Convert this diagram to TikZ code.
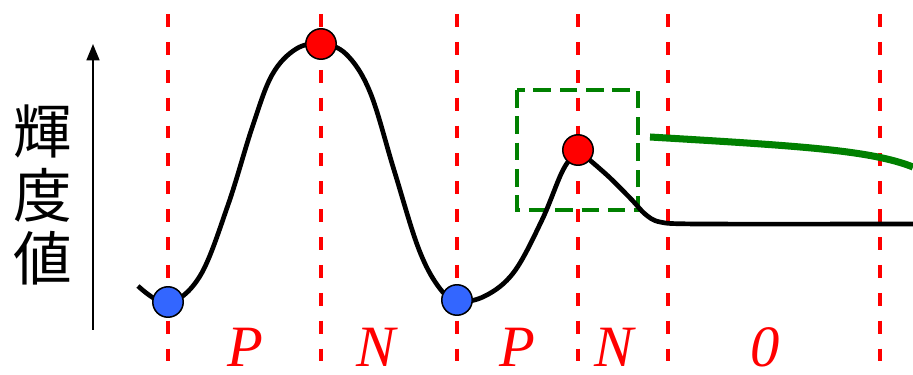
\documentclass[tikz,border=0pt]{standalone}
\usepackage{fontspec}
\usetikzlibrary{arrows.meta}
\setmainfont{Liberation Serif}
\newfontfamily\jpfont{Noto Sans CJK JP}
\definecolor{dotred}{RGB}{255,0,0}
\definecolor{dotblue}{RGB}{51,102,255}
\definecolor{boxgreen}{RGB}{0,128,0}
\begin{document}
\begin{tikzpicture}[x=0.03cm,y=-0.03cm,
  divline/.style={draw=red, line width=2.9pt, dash pattern=on 11pt off 12.8pt},
  peakdot/.style={circle, draw=black, line width=1.3pt, fill=dotred, minimum size=26pt, inner sep=0pt},
  valleydot/.style={circle, draw=black, line width=1.3pt, fill=dotblue, minimum size=26pt, inner sep=0pt},
  seglabel/.style={text=red, anchor=base, inner sep=0pt, font=\fontsize{50}{50}\selectfont\itshape}]
\useasboundingbox (0,0) rectangle (913,375);
% axis and label
\coordinate (axisbot) at (93,330);
\coordinate (axistop) at (93,44);
\draw[line width=1.8pt, -{Triangle[length=14pt,width=11pt]}] (axisbot) -- (axistop);
\node[align=center, font=\jpfont\fontsize{50}{54.5}\selectfont, inner sep=0pt] (ylabel) at (43,195) {輝\\度\\値};
% dashed dividers
\foreach \x [count=\i] in {168,321,457,578,668,880} {
  \coordinate (top\i) at (\x,14);
  \coordinate (bot\i) at (\x,362);
  \draw[divline] (top\i) -- (bot\i);
}
% green box and line
\draw[draw=boxgreen, line width=2.9pt, dash pattern=on 15pt off 7.5pt] (517,90) rectangle (638,210);
\draw[draw=boxgreen, line width=6pt] (650,137) .. controls (800,146) and (870,150) .. (913,167);
% luminance curve
\draw[line width=4pt, line join=round] plot[smooth, tension=0.6] coordinates {(138,286) (168,303) (200,276) (228,205) (252,128) (272,75) (296,49) (321,44) (346,54) (370,92) (394,170) (418,247) (438,286) (457,301) (485,296) (514,272) (542,220) (563,170) (578,150)};
\draw[line width=4pt, line join=round] plot[smooth, tension=0.5] coordinates {(578,150) (608,176) (632,200) (645,214) (660,222) (700,224) (913,224)};
% extrema
\node[valleydot] (v1) at (168,302) {};
\node[peakdot] (p1) at (321,44) {};
\node[valleydot] (v2) at (457,300) {};
\node[peakdot] (p2) at (578,150) {};
% segment labels
\node[seglabel] (l1) at (245,367) {P};
\node[seglabel] (l2) at (376,367) {N};
\node[seglabel] (l3) at (517,367) {P};
\node[seglabel] (l4) at (614,367) {N};
\node[seglabel] (l5) at (765,367) {0};
\end{tikzpicture}
\end{document}
